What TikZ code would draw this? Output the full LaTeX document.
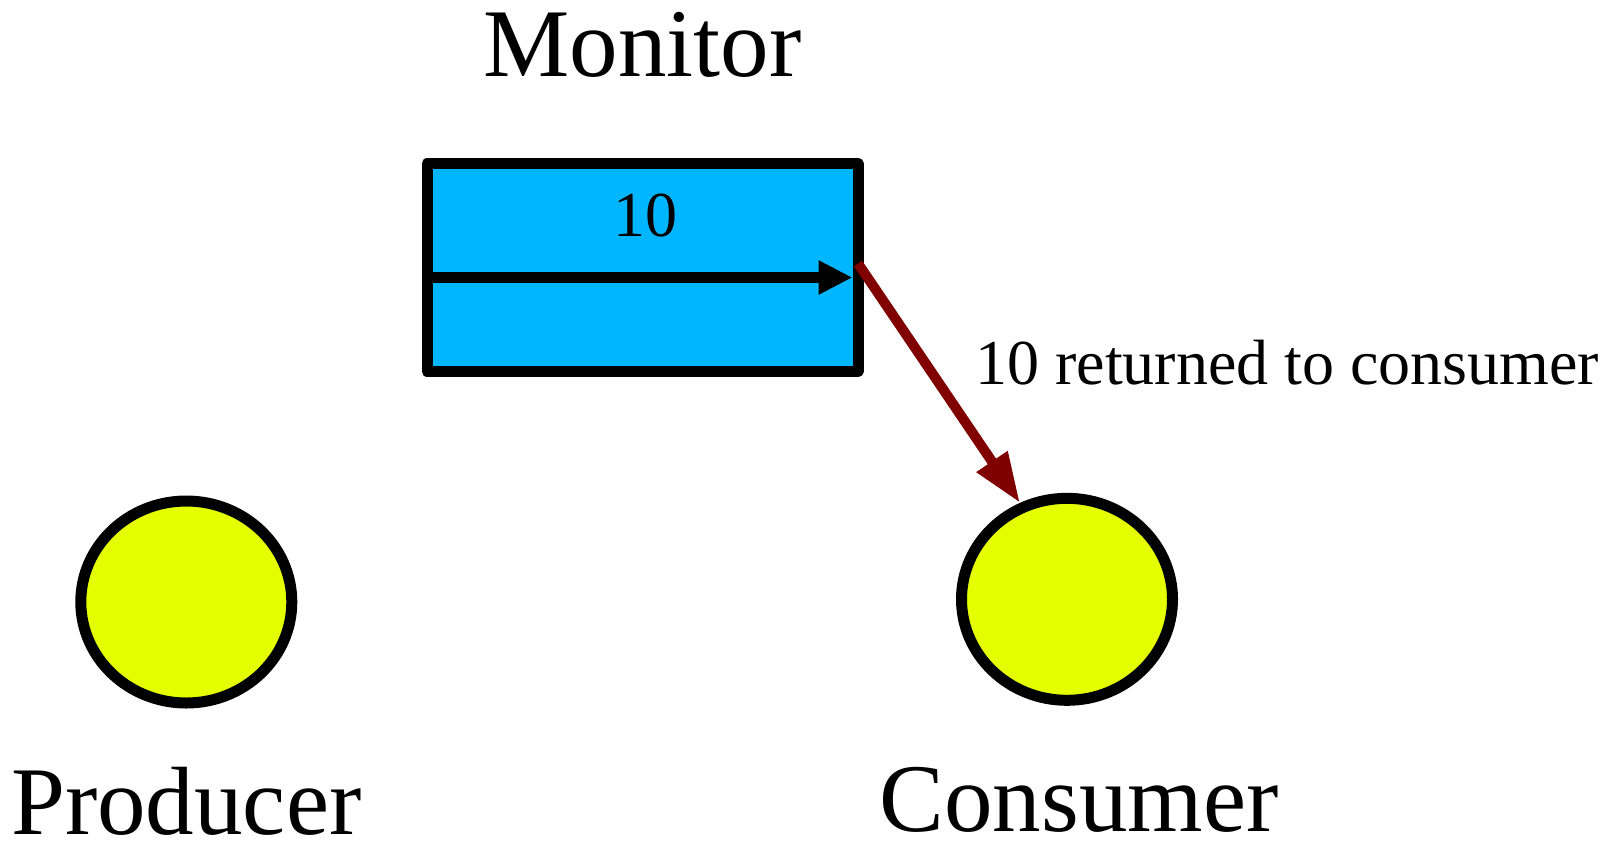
\documentclass[tikz,border=0pt]{standalone}
\usepackage{fontspec}
\setmainfont{Liberation Serif}
\usepackage{tikz}
\usetikzlibrary{positioning}
\usetikzlibrary{arrows.meta}
\usetikzlibrary{shapes}

\definecolor{bufblue}{RGB}{0,183,255}
\definecolor{procyellow}{RGB}{228,255,0}
\definecolor{retred}{RGB}{128,0,0}

\tikzset{
    bigtext/.style={inner sep=0, text depth=0pt, font=\fontsize{48.5}{56}\selectfont},
    smalltext/.style={inner sep=0, font=\fontsize{32}{38}\selectfont},
    buffer/.style={rectangle, draw, line width=5.5pt, line join=round, fill=bufblue,
        minimum width=215.5pt, minimum height=104pt, inner sep=0, outer sep=0},
    proc/.style={ellipse, draw, line width=5.5pt, fill=procyellow,
        minimum width=105.5pt, minimum height=101pt, inner sep=0},
    slot/.style={line width=5.5pt, -{Triangle[length=17pt,width=16pt]}},
    ret/.style={line width=5pt, retred, -{Triangle[length=25pt,width=17.5pt]}}
}

\begin{document}
\begin{tikzpicture}[x=0.5pt, y=-0.5pt]
    \useasboundingbox (0,0) rectangle (1615,842);

    \node[buffer] (buf) at (642.5,267.5) {};
    \node[bigtext, above=43.75pt of buf, anchor=base] (mon) {Monitor};
    \node[smalltext, anchor=base] (val) at (645,236) {10};

    \node[proc] (prod) at (186.3,602) {};
    \node[bigtext, below=63pt of prod, anchor=base] (prodlbl) {Producer};

    \node[proc] (cons) at (1067,599.3) {};
    \node[bigtext, below=63pt of cons, anchor=base, xshift=6pt] (conslbl) {Consumer};

    \node[smalltext, anchor=base west] (retlbl) at (975,384) {10 returned to consumer};

    \draw[slot] ([yshift=-5pt]buf.west) -- ([xshift=-2.75pt,yshift=-5pt]buf.east);
    \draw[ret] ([yshift=2pt]buf.east) -- (cons.116);
\end{tikzpicture}
\end{document}
